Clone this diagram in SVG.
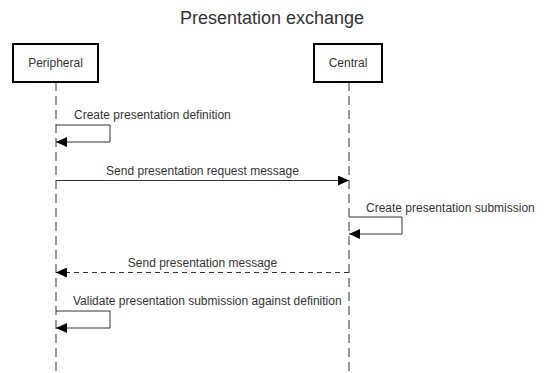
<svg xmlns="http://www.w3.org/2000/svg" width="544" height="373" viewBox="0 0 544 373">
  <defs>
    <marker id="arrow" markerWidth="11" markerHeight="10" refX="11" refY="5" orient="auto" markerUnits="userSpaceOnUse">
      <path d="M0,0 L11,5 L0,10 Z" fill="#000"/>
    </marker>
  </defs>
  <style>
    text { font-family: "Liberation Sans", Arial, sans-serif; fill: #333; }
    .title { font-size: 18px; text-anchor: middle; }
    .actor { font-size: 12px; text-anchor: middle; }
    .lbl { font-size: 12px; }
    .mid { text-anchor: middle; }
    .box { fill: #fff; stroke: #000; stroke-width: 2; }
    .life { stroke: #333; stroke-width: 1; stroke-dasharray: 9 5; fill: none; }
    .msg { stroke: #333; stroke-width: 1; fill: none; }
    .dash { stroke-dasharray: 5 4; }
  </style>
  <rect width="544" height="373" fill="#fff"/>
  <text class="title" x="272" y="24">Presentation exchange</text>

  <g id="lifelines">
    <line class="life" x1="56" y1="82" x2="56" y2="373"/>
    <line class="life" x1="349" y1="82" x2="349" y2="373"/>
  </g>

  <g id="peripheral">
    <rect class="box" x="13" y="44" width="85" height="38"/>
    <text class="actor" x="55.5" y="67">Peripheral</text>
  </g>
  <g id="central">
    <rect class="box" x="314" y="44" width="68" height="38"/>
    <text class="actor" x="348" y="67">Central</text>
  </g>

  <g id="connectors">
    <path class="msg" d="M56,125 H110 V142 H56" marker-end="url(#arrow)"/>
    <line class="msg" x1="56" y1="180.5" x2="349" y2="180.5" marker-end="url(#arrow)"/>
    <path class="msg" d="M349,217 H402 V234 H349" marker-end="url(#arrow)"/>
    <line class="msg dash" x1="349" y1="272.5" x2="56" y2="272.5" marker-end="url(#arrow)"/>
    <path class="msg" d="M56,311 H110 V328 H56" marker-end="url(#arrow)"/>
  </g>

  <g id="labels">
    <text class="lbl" x="74" y="119">Create presentation definition</text>
    <text class="lbl mid" x="202.5" y="175">Send presentation request message</text>
    <text class="lbl" x="366" y="212">Create presentation submission</text>
    <text class="lbl mid" x="202.5" y="267">Send presentation message</text>
    <text class="lbl" x="73" y="305">Validate presentation submission against definition</text>
  </g>
</svg>
